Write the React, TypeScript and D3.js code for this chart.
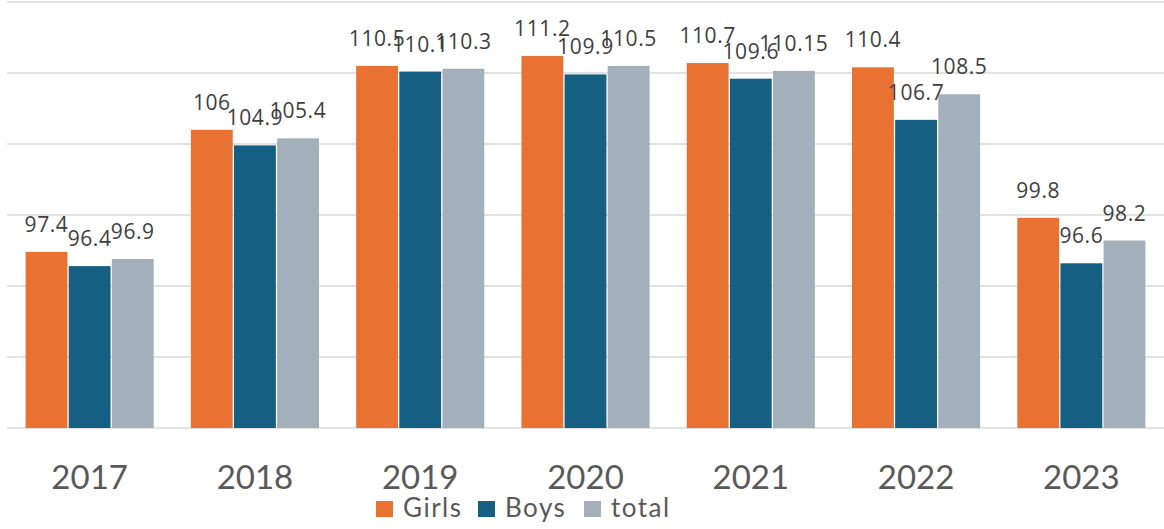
import React, { useEffect, useRef } from "react";
import * as d3 from "d3";

const years = ["2017", "2018", "2019", "2020", "2021", "2022", "2023"];
const seriesNames = ["Girls", "Boys", "total"];
const girls = [97.4, 106, 110.5, 111.2, 110.7, 110.4, 99.8];
const boys = [96.4, 104.9, 110.1, 109.9, 109.6, 106.7, 96.6];
const total = [96.9, 105.4, 110.3, 110.5, 110.15, 108.5, 98.2];
const gridTicks = [85, 90, 95, 100, 105, 110, 115];

const colors = ["#E97132", "#156082", "#A3AFBA"];

const App: React.FC = () => {
  const svgRef = useRef<SVGSVGElement | null>(null);

  useEffect(() => {
    if (!svgRef.current) return;
    const width = 1164;
    const height = 529;
    const values = [girls, boys, total];

    const svg = d3.select(svgRef.current);
    svg.selectAll("*").remove();
    svg.attr("width", width).attr("height", height);

    const x0 = d3
      .scaleBand<string>()
      .domain(years)
      .range([7, 1164])
      .paddingInner(0.225)
      .paddingOuter(0.1125);

    const x1 = d3
      .scaleBand<string>()
      .domain(seriesNames)
      .range([0, x0.bandwidth()])
      .paddingInner(0.03);

    const y = d3.scaleLinear().domain([85, 115]).range([428, 2]);

    // grid
    svg
      .append("g")
      .selectAll("line")
      .data(gridTicks)
      .enter()
      .append("line")
      .attr("x1", 7)
      .attr("x2", width)
      .attr("y1", (d) => y(d))
      .attr("y2", (d) => y(d))
      .attr("stroke", "#D9D9D9")
      .attr("stroke-width", 1.5);

    // bars
    seriesNames.forEach((s, si) => {
      svg
        .append("g")
        .selectAll("rect")
        .data(values[si])
        .enter()
        .append("rect")
        .attr("x", (_, i) => (x0(years[i]) ?? 0) + (x1(s) ?? 0))
        .attr("y", (d) => y(d))
        .attr("width", x1.bandwidth())
        .attr("height", (d) => y(85) - y(d))
        .attr("fill", colors[si]);
    });

    // value labels
    seriesNames.forEach((s, si) => {
      svg
        .append("g")
        .selectAll("text")
        .data(values[si])
        .enter()
        .append("text")
        .attr(
          "x",
          (_, i) => (x0(years[i]) ?? 0) + (x1(s) ?? 0) + x1.bandwidth() / 2
        )
        .attr("y", (d) => y(d) - 20)
        .attr("text-anchor", "middle")
        .attr("font-family", "'Open Sans', sans-serif")
        .attr("font-size", "21px")
        .attr("letter-spacing", "0.6px")
        .attr("fill", "#404040")
        .text((d) => String(d));
    });

    // x axis labels
    svg
      .append("g")
      .selectAll("text")
      .data(years)
      .enter()
      .append("text")
      .attr("x", (d) => (x0(d) ?? 0) + x0.bandwidth() / 2)
      .attr("y", 489)
      .attr("text-anchor", "middle")
      .attr("font-family", "Lato, sans-serif")
      .attr("font-size", "33px")
      .attr("fill", "#595959")
      .text((d) => d);

    // legend
    const legendX = [376, 478, 584];
    const legend = svg
      .append("g")
      .selectAll("g")
      .data(seriesNames)
      .enter()
      .append("g")
      .attr("transform", (_, i) => `translate(${legendX[i]},0)`);
    legend
      .append("rect")
      .attr("x", 0)
      .attr("y", 501)
      .attr("width", 17)
      .attr("height", 16)
      .attr("fill", (_, i) => colors[i]);
    legend
      .append("text")
      .attr("x", 27)
      .attr("y", 517)
      .attr("font-family", "Lato, sans-serif")
      .attr("font-size", "26px")
      .attr("letter-spacing", "1.5px")
      .attr("fill", "#595959")
      .text((d) => d);
  }, []);

  return (
    <svg
      ref={svgRef}
      style={{ position: "absolute", left: 0, top: 0, background: "#fff" }}
    />
  );
};

export default App;
